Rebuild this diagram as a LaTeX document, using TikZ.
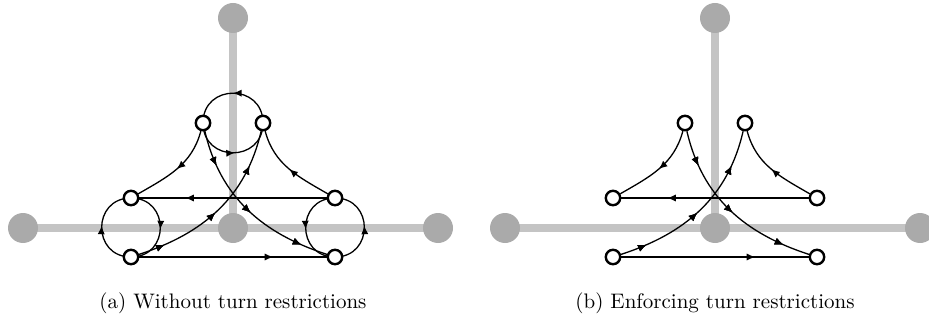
\documentclass[tikz,border=0pt]{standalone}
\usetikzlibrary{arrows.meta,decorations.markings}

\definecolor{roadline}{RGB}{196,196,196}
\definecolor{roadnode}{RGB}{170,170,170}

% road bars, then junction discs, then turning movements, lane ports on top
\pgfdeclarelayer{bars}
\pgfdeclarelayer{discs}
\pgfdeclarelayer{moves}
\pgfsetlayers{bars,discs,moves,main}

\tikzset{
  road/.style={line width=4pt, roadline},
  junction/.style={circle, fill=roadnode, minimum size=15pt, inner sep=0pt},
  port/.style={circle, draw=black, fill=white, line width=1.2pt, minimum size=7.2pt, inner sep=0pt},
  link/.style={line width=0.65pt, black},
  tipat/.style={postaction={decorate}, decoration={markings,
      mark=at position #1 with {\arrow{Latex[length=4.3pt,width=3.6pt]}}}},
  uturn/.style={looseness=1.7},
  caption/.style={font=\fontsize{10.5}{12}\selectfont, inner sep=0pt}
}

\begin{document}
\begin{tikzpicture}[x=0.5pt, y=-0.5pt]
  \useasboundingbox (0,0) rectangle (929,331);

  % ---------- (a) all movements ----------
  \node[port] (atl) at (203,123) {};
  \node[port] (atr) at (263,123) {};
  \node[port] (aml) at (131,198) {};
  \node[port] (amr) at (335,198) {};
  \node[port] (abl) at (131,257) {};
  \node[port] (abr) at (335,257) {};

  \begin{pgfonlayer}{discs}
    \node[junction] (ac) at (233,228) {};
    \node[junction] (an) at (233,18) {};
    \node[junction] (aw) at (23,228) {};
    \node[junction] (ae) at (438,228) {};
  \end{pgfonlayer}
  \begin{pgfonlayer}{bars}
    \draw[road] (an.center) -- (ac.center);
    \draw[road] (aw.center) -- (ae.center);
  \end{pgfonlayer}

  \begin{pgfonlayer}{moves}
    \begin{scope}[link]
      % U-turns
      \draw[tipat=0.5] (atr.center) to[out=90,in=90,uturn] (atl.center);
      \draw[tipat=0.52] (atl.center) to[out=-90,in=-90,uturn] (atr.center);
      \draw[tipat=0.52] (abl.center) to[out=180,in=180,uturn] (aml.center);
      \draw[tipat=0.52] (aml.center) to[out=0,in=0,uturn] (abl.center);
      \draw[tipat=0.52] (amr.center) to[out=180,in=180,uturn] (abr.center);
      \draw[tipat=0.52] (abr.center) to[out=0,in=0,uturn] (amr.center);
      % turns and straight movements
      \draw[tipat=0.5] (atl) to[out=-105,in=30] (aml);
      \draw[tipat=0.5] (amr) to[out=150,in=-75] (atr);
      \draw[tipat=0.2,tipat=0.52,tipat=0.85] (atl) to[out=-77,in=162] (abr);
      \draw[tipat=0.15,tipat=0.48,tipat=0.8] (abl) to[out=18,in=-103] (atr);
      \draw[tipat=0.755] (amr) -- (aml);
      \draw[tipat=0.715] (abl) -- (abr);
    \end{scope}
  \end{pgfonlayer}

  \node[caption] (capa) at (233,303) {(a) Without turn restrictions};

  % ---------- (b) turn restrictions enforced ----------
  \node[port] (btl) at (685,123) {};
  \node[port] (btr) at (745,123) {};
  \node[port] (bml) at (613,198) {};
  \node[port] (bmr) at (817,198) {};
  \node[port] (bbl) at (613,257) {};
  \node[port] (bbr) at (817,257) {};

  \begin{pgfonlayer}{discs}
    \node[junction] (bc) at (715,228) {};
    \node[junction] (bn) at (715,18) {};
    \node[junction] (bw) at (505,228) {};
    \node[junction] (be) at (920,228) {};
  \end{pgfonlayer}
  \begin{pgfonlayer}{bars}
    \draw[road] (bn.center) -- (bc.center);
    \draw[road] (bw.center) -- (be.center);
  \end{pgfonlayer}

  \begin{pgfonlayer}{moves}
    \begin{scope}[link]
      \draw[tipat=0.5] (btl) to[out=-105,in=30] (bml);
      \draw[tipat=0.5] (bmr) to[out=150,in=-75] (btr);
      \draw[tipat=0.2,tipat=0.52,tipat=0.85] (btl) to[out=-77,in=162] (bbr);
      \draw[tipat=0.15,tipat=0.48,tipat=0.8] (bbl) to[out=18,in=-103] (btr);
      \draw[tipat=0.755] (bmr) -- (bml);
      \draw[tipat=0.715] (bbl) -- (bbr);
    \end{scope}
  \end{pgfonlayer}

  \node[caption] (capb) at (715,303) {(b) Enforcing turn restrictions};
\end{tikzpicture}
\end{document}
